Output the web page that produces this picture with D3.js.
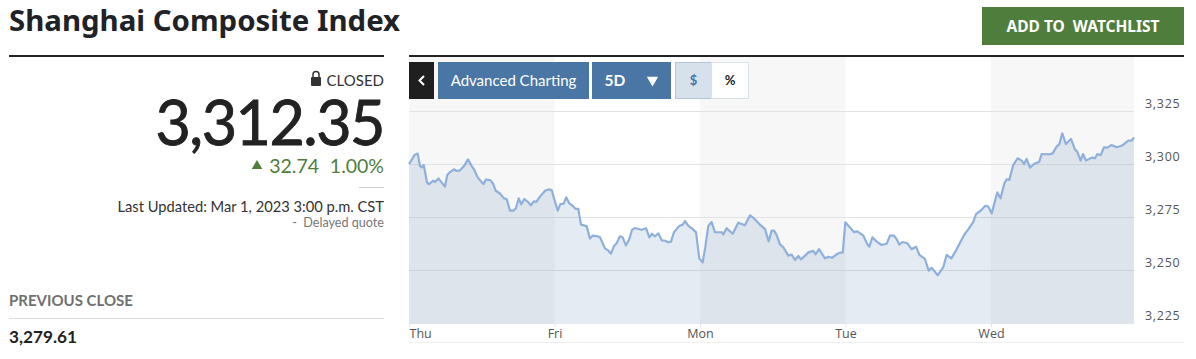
<!DOCTYPE html>
<html lang="en">
<head>
    <meta charset="UTF-8">
    <title>Shanghai Composite Index</title>
    <script src="https://d3js.org/d3.v7.min.js"></script>
    <style>
        html, body { margin: 0; padding: 0; background: #fff; overflow: hidden; }
        svg { display: block; font-family: Lato, sans-serif; }
    </style>
</head>
<body>
    <svg></svg>
    <script>
        const dayLabels = ['Thu', 'Fri', 'Mon', 'Tue', 'Wed'];
        const dayStarts = [0, 1, 2, 3, 4];
        const yTicks = [3225, 3250, 3275, 3300, 3325];

        // time in sessions since Thursday's open
        const times = [
            0, .018, .037, .060, .076, .087, .101, .124, .137, .165, .179, .202, .225, .247, .263, .282, .309, .328, .351, .378,
            .405, .431, .449, .472, .511, .529, .557, .577, .596, .625, .653, .671, .694, .717, .735, .754, .772, .793, .816, .838,
            .857, .875, .900, .935, .958, .981, .997, 1.022, 1.040, 1.063, 1.081, 1.102, 1.125, 1.145, 1.164, 1.182, 1.221, 1.244, 1.262, 1.290,
            1.313, 1.347, 1.370, 1.388, 1.409, 1.427, 1.450, 1.469, 1.491, 1.512, 1.533, 1.551, 1.599, 1.629, 1.652, 1.670, 1.691, 1.714, 1.737, 1.762,
            1.782, 1.801, 1.821, 1.858, 1.881, 1.897, 1.920, 1.950, 1.973, 1.995, 2.018, 2.037, 2.057, 2.080, 2.103, 2.149, 2.160, 2.183, 2.225, 2.263,
            2.309, 2.344, 2.371, 2.412, 2.447, 2.472, 2.493, 2.509, 2.527, 2.550, 2.573, 2.607, 2.630, 2.653, 2.676, 2.694, 2.715, 2.745, 2.779, 2.795,
            2.818, 2.859, 2.882, 2.910, 2.939, 2.962, 2.981, 2.999, 3.031, 3.058, 3.081, 3.123, 3.150, 3.164, 3.185, 3.214, 3.249, 3.283, 3.306, 3.333,
            3.352, 3.370, 3.391, 3.425, 3.455, 3.485, 3.508, 3.546, 3.572, 3.592, 3.634, 3.672, 3.695, 3.728, 3.764, 3.815, 3.844, 3.879, 3.897, 3.929,
            3.961, 3.982, 4.005, 4.043, 4.066, 4.092, 4.108, 4.126, 4.153, 4.183, 4.211, 4.227, 4.245, 4.268, 4.295, 4.332, 4.348, 4.401, 4.424, 4.451,
            4.470, 4.490, 4.515, 4.550, 4.577, 4.593, 4.616, 4.632, 4.653, 4.692, 4.715, 4.731, 4.754, 4.777, 4.800, 4.829, 4.864, 4.898, 4.944, 4.967,
            4.983
        ];
        const closes = [
            3300.0, 3301.9, 3304.2, 3304.9, 3299.0, 3298.4, 3299.5, 3291.3, 3290.5, 3292.1, 3291.5, 3293.2, 3291.2, 3289.3, 3294.8, 3296.2, 3297.5, 3296.7, 3297.0, 3299.0,
            3302.2, 3299.0, 3297.2, 3293.7, 3290.5, 3292.7, 3292.4, 3290.9, 3287.4, 3286.1, 3283.8, 3283.5, 3278.0, 3278.0, 3279.1, 3283.8, 3281.0, 3283.5, 3282.2, 3280.5,
            3282.4, 3282.1, 3284.6, 3287.4, 3288.0, 3287.7, 3283.8, 3278.0, 3281.1, 3281.3, 3284.3, 3281.4, 3280.3, 3278.8, 3278.8, 3271.4, 3270.7, 3264.8, 3266.2, 3266.0,
            3265.4, 3260.2, 3259.1, 3257.7, 3261.3, 3262.6, 3265.9, 3265.3, 3261.6, 3264.2, 3268.9, 3269.8, 3269.0, 3269.7, 3265.4, 3267.1, 3265.9, 3267.3, 3264.0, 3263.8,
            3263.1, 3263.4, 3267.8, 3270.8, 3271.4, 3273.1, 3270.8, 3269.3, 3267.8, 3255.5, 3253.6, 3261.0, 3270.8, 3272.6, 3267.8, 3267.8, 3266.8, 3269.7, 3267.1, 3272.3,
            3271.1, 3275.8, 3274.4, 3271.4, 3269.3, 3263.5, 3268.6, 3268.6, 3266.5, 3262.1, 3260.7, 3256.8, 3257.3, 3254.7, 3256.6, 3255.0, 3256.3, 3258.3, 3259.0, 3257.4,
            3259.8, 3255.5, 3256.2, 3255.8, 3257.4, 3258.2, 3258.2, 3272.5, 3270.0, 3267.9, 3268.2, 3266.2, 3262.1, 3261.0, 3265.4, 3263.4, 3261.8, 3262.4, 3266.2, 3266.2,
            3264.5, 3262.0, 3263.2, 3262.6, 3259.8, 3261.0, 3257.1, 3255.2, 3249.7, 3251.1, 3247.5, 3251.3, 3257.1, 3255.5, 3259.8, 3266.5, 3269.2, 3272.8, 3276.3, 3278.0,
            3280.3, 3279.9, 3276.7, 3286.6, 3283.8, 3290.9, 3292.8, 3292.5, 3299.5, 3302.7, 3301.6, 3300.0, 3302.4, 3298.3, 3300.0, 3301.1, 3304.7, 3304.6, 3305.0, 3308.2,
            3309.4, 3314.5, 3309.4, 3311.8, 3306.9, 3305.8, 3301.6, 3304.7, 3301.6, 3303.0, 3302.7, 3304.7, 3304.2, 3307.9, 3307.7, 3309.0, 3307.9, 3308.6, 3311.0, 3311.0,
            3312.6
        ];

        const svgWidth = 1196;
        const svgHeight = 359;

        const svg = d3.select('svg')
            .attr('width', svgWidth)
            .attr('height', svgHeight);

        const x = d3.scaleLinear().domain([0, 4.983]).range([409, 1134]);
        const y = d3.scaleLinear().domain([3225, 3325]).range([323, 111]);

        // grey bands behind every other session
        const bandEnds = [1, 2, 3, 4, 4.983];
        svg.append('g')
            .selectAll('rect')
            .data(dayStarts.filter(d => d % 2 === 0))
            .enter().append('rect')
            .attr('x', d => x(d))
            .attr('y', 57)
            .attr('width', d => x(bandEnds[d]) - x(d))
            .attr('height', 267)
            .attr('fill', '#f7f7f7');

        // y axis with grid lines
        const yAxis = svg.append('g')
            .attr('transform', 'translate(1134,0)')
            .call(d3.axisRight(y).tickValues(yTicks).tickSize(0).tickFormat(d3.format(',')));
        yAxis.select('.domain').remove();
        yAxis.selectAll('text')
            .attr('x', 11)
            .attr('dy', '-0.25em')
            .attr('font-family', '"Open Sans", sans-serif')
            .attr('font-size', 12.5)
            .attr('letter-spacing', 0.7)
            .attr('fill', '#555');

        svg.append('g')
            .selectAll('line')
            .data(yTicks.filter(d => d > 3225))
            .enter().append('line')
            .attr('x1', 409)
            .attr('x2', 1134)
            .attr('y1', d => y(d) + 0.5)
            .attr('y2', d => y(d) + 0.5)
            .attr('stroke', '#e2e2e2');

        const points = times.map((t, i) => ({ t: t, v: closes[i] }));

        const area = d3.area()
            .x(d => x(d.t))
            .y0(324)
            .y1(d => y(d.v));
        const line = d3.line()
            .x(d => x(d.t))
            .y(d => y(d.v));

        svg.append('path')
            .datum(points)
            .attr('fill', 'rgba(66,110,165,0.14)')
            .attr('d', area);
        svg.append('path')
            .datum(points)
            .attr('fill', 'none')
            .attr('stroke', '#8eb0da')
            .attr('stroke-width', 2.2)
            .attr('stroke-linejoin', 'round')
            .attr('d', line);

        // x axis
        const xAxis = svg.append('g')
            .attr('transform', 'translate(0,324)')
            .call(d3.axisBottom(x).tickValues(dayStarts).tickSize(3).tickPadding(2)
                .tickFormat((d, i) => dayLabels[i]));
        xAxis.select('.domain').remove();
        xAxis.selectAll('line').attr('stroke', '#e4e4e4');
        xAxis.selectAll('text')
            .attr('font-family', '"Open Sans", sans-serif')
            .attr('font-size', 12.5)
            .attr('fill', '#555');
        xAxis.select('.tick text').attr('text-anchor', 'start');

        svg.append('rect').attr('x', 409).attr('y', 342).attr('width', 775).attr('height', 1).attr('fill', '#f0f0f0');

        // header
        function label(txt, px, py, size, opts) {
            opts = opts || {};
            return svg.append('text')
                .attr('x', px)
                .attr('y', py)
                .attr('font-size', size)
                .attr('font-weight', opts.weight || 400)
                .attr('font-family', opts.family || 'Lato, sans-serif')
                .attr('text-anchor', opts.anchor || 'end')
                .attr('fill', opts.fill || '#222')
                .text(txt);
        }

        label('Shanghai Composite Index', 9, 31, 29.4, { anchor: 'start', weight: 700, family: '"Noto Sans", sans-serif', fill: '#1f2226' });
        svg.append('rect').attr('x', 9).attr('y', 55).attr('width', 375).attr('height', 2).attr('fill', '#222');
        svg.append('rect').attr('x', 409).attr('y', 55).attr('width', 775).attr('height', 2).attr('fill', '#222');

        svg.append('rect').attr('x', 982).attr('y', 7).attr('width', 202).attr('height', 38).attr('fill', '#4f7d3c');
        label('ADD TO  WATCHLIST', 1083, 32, 15.5, { anchor: 'middle', weight: 700, family: '"Noto Sans", sans-serif', fill: '#fff' }).attr('xml:space', 'preserve');

        // left column
        svg.append('rect').attr('x', 311).attr('y', 77).attr('width', 10).attr('height', 9).attr('rx', 1).attr('fill', '#333');
        svg.append('path').attr('d', 'M313 77v-2.5a3 3 0 0 1 6 0V77').attr('fill', 'none').attr('stroke', '#333').attr('stroke-width', 1.5);
        label('CLOSED', 384, 86, 15, { fill: '#333' });
        label('3,312.35', 384, 145, 61, { fill: '#222' })
            .attr('letter-spacing', -1.5)
            .attr('stroke', '#222')
            .attr('stroke-width', 0.9);

        svg.append('path')
            .attr('d', d3.symbol().type(d3.symbolTriangle).size(48))
            .attr('transform', 'translate(257,166)')
            .attr('fill', '#4f7d3c');
        label('32.74', 319, 173, 19.5, { fill: '#4f7d3c' });
        label('1.00%', 384, 173, 19.5, { fill: '#4f7d3c' });
        svg.append('rect').attr('x', 359).attr('y', 187).attr('width', 25).attr('height', 1).attr('fill', '#ccc');
        label('Last Updated: Mar 1, 2023 3:00 p.m. CST', 384, 212, 14.7, { fill: '#333' });
        label('-  Delayed quote', 384, 227, 12.6, { fill: '#777' }).attr('xml:space', 'preserve');
        label('PREVIOUS CLOSE', 9, 306, 15, { anchor: 'start', weight: 700, fill: '#707070' });
        svg.append('rect').attr('x', 9).attr('y', 318).attr('width', 375).attr('height', 1).attr('fill', '#ddd');
        label('3,279.61', 9, 343, 17.2, { anchor: 'start', weight: 700, fill: '#222' });

        // chart toolbar
        svg.append('rect').attr('x', 409).attr('y', 62).attr('width', 25).attr('height', 37).attr('fill', '#1f1f1f');
        svg.append('path').attr('d', 'M424 76l-4.5 4.5 4.5 4.5').attr('fill', 'none').attr('stroke', '#fff').attr('stroke-width', 2);
        svg.append('rect').attr('x', 438).attr('y', 62).attr('width', 151).attr('height', 37).attr('fill', '#4a76a5');
        label('Advanced Charting', 513.5, 86, 15, { anchor: 'middle', fill: '#fff' });
        svg.append('rect').attr('x', 592).attr('y', 62).attr('width', 79).attr('height', 37).attr('fill', '#4a76a5');
        label('5D', 615, 86, 15.5, { anchor: 'middle', weight: 700, fill: '#fff' });
        svg.append('path')
            .attr('d', d3.symbol().type(d3.symbolTriangle).size(56))
            .attr('transform', 'translate(652.5,80) rotate(180)')
            .attr('fill', '#fff');
        svg.append('rect').attr('x', 675.5).attr('y', 62.5).attr('width', 36).attr('height', 36).attr('fill', '#d6e1ec').attr('stroke', '#b5c6d8');
        label('$', 693.5, 85, 13, { anchor: 'middle', weight: 700, fill: '#4a76a5' });
        svg.append('rect').attr('x', 711.5).attr('y', 62.5).attr('width', 37).attr('height', 36).attr('fill', '#fff').attr('stroke', '#d9e2ec');
        label('%', 730, 85, 13, { anchor: 'middle', weight: 700, fill: '#222' });
    </script>
</body>
</html>
